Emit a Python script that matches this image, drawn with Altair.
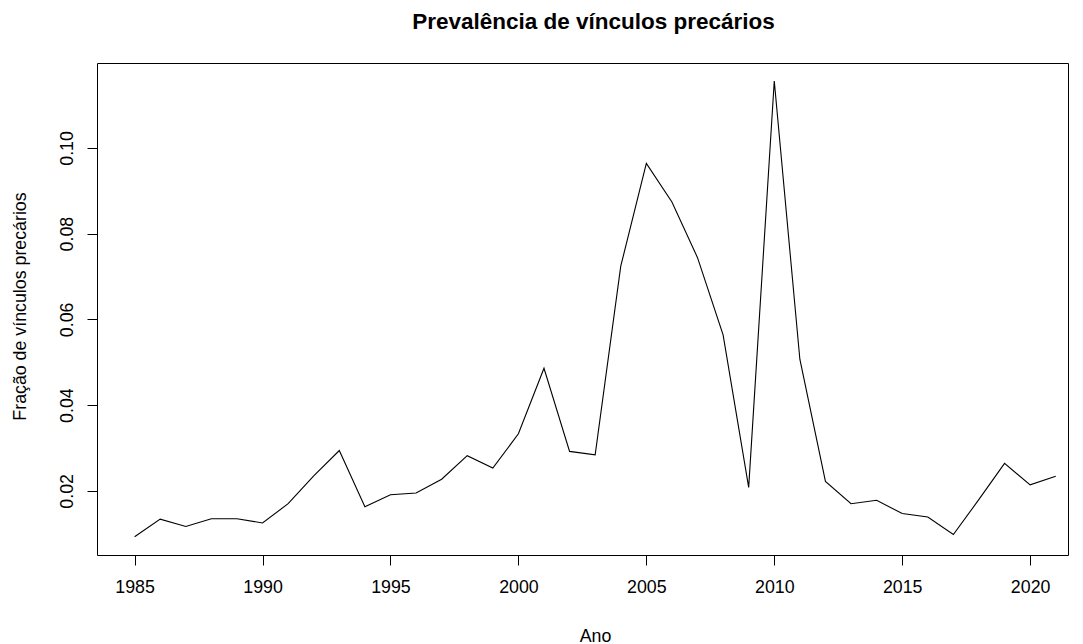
import altair as alt
import pandas as pd

anos = list(range(1985, 2022))
fracao = [
    0.0093, 0.0134, 0.0117, 0.0135, 0.0135, 0.0125, 0.0170, 0.0235, 0.0294, 0.0163,
    0.0191, 0.0195, 0.0227, 0.0282, 0.0253, 0.0333, 0.0486, 0.0292, 0.0284, 0.0724,
    0.0964, 0.0874, 0.0744, 0.0564, 0.0208, 0.1156, 0.0507, 0.0222, 0.0170, 0.0178,
    0.0147, 0.0139, 0.0098, 0.0180, 0.0264, 0.0214, 0.0234,
]
x_ticks = [1985, 1990, 1995, 2000, 2005, 2010, 2015, 2020]
y_ticks = [0.02, 0.04, 0.06, 0.08, 0.10]

df = pd.DataFrame({"Ano": anos, "Fracao": fracao})

FONT = "Liberation Sans"

chart = alt.Chart(df).mark_line(color="black", strokeWidth=1.1).encode(
    x=alt.X(
        "Ano:Q",
        scale=alt.Scale(domain=[1983.53, 2021.48], nice=False, zero=False),
        axis=alt.Axis(
            values=x_ticks, format="d", title="Ano", grid=False, domain=False,
            tickSize=10, tickColor="black", labelPadding=13,
            labelFont=FONT, labelFontSize=17.8, labelColor="black",
            titleFont=FONT, titleFontSize=17.8, titleFontWeight="normal", titleColor="black",
            titleX=498, titleY=86, titleBaseline="alphabetic", titleAnchor="middle",
        ),
    ),
    y=alt.Y(
        "Fracao:Q",
        scale=alt.Scale(domain=[0.00503, 0.11981], nice=False, zero=False),
        axis=alt.Axis(
            values=y_ticks, format=".2f", title="Fração de vínculos precários", grid=False, domain=False,
            tickSize=10, tickColor="black", labelPadding=15,
            labelAngle=270, labelAlign="center", labelBaseline="alphabetic",
            labelFont=FONT, labelFontSize=17.8, labelColor="black",
            titleFont=FONT, titleFontSize=17.8, titleFontWeight="normal", titleColor="black",
            titleAngle=270, titleX=-72, titleY=243, titleBaseline="alphabetic", titleAlign="center",
        ),
    ),
).properties(
    width=971,
    height=492,
    title=alt.TitleParams(
        "Prevalência de vínculos precários", font=FONT, fontSize=22.5, fontWeight="bold",
        color="black", anchor="middle", dx=11, dy=24, offset=36, baseline="alphabetic",
    ),
    autosize=alt.AutoSizeParams(type="none"),
    padding={"left": 89, "top": 55, "right": 7, "bottom": 100},
).configure(
    background="white",
    view=alt.ViewConfig(stroke="black", strokeWidth=1),
)

chart.save("out.html", embed_options={"renderer": "svg", "actions": False})
